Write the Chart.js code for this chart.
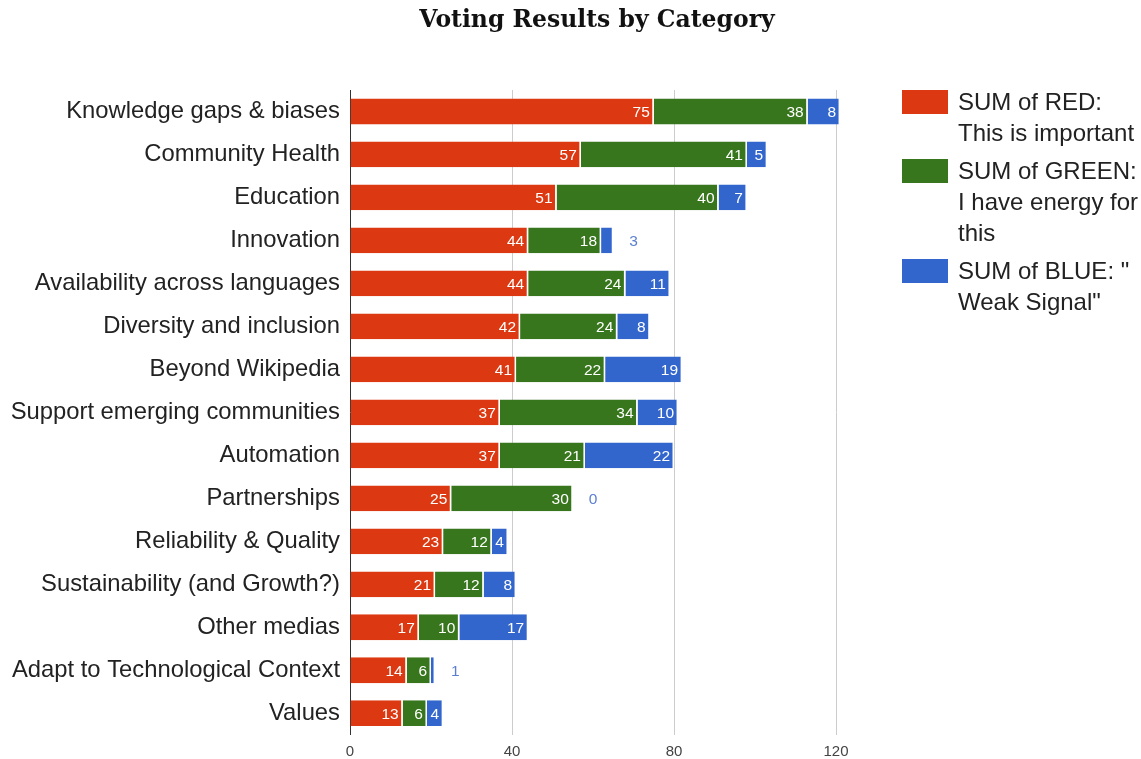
<!DOCTYPE html>
<html>
<head>
<meta charset="utf-8">
<script src="https://cdn.jsdelivr.net/npm/chart.js@4.4.1/dist/chart.umd.min.js"></script>
<style>
  html, body { margin: 0; padding: 0; background: #fff; }
  #wrap { position: relative; width: 1141px; height: 759px; }
  #title {
    position: absolute; left: 0; top: 5px; width: 1194px; text-align: center;
    font: bold 23.5px "DejaVu Serif", serif; color: #111;
  }
  #legend { position: absolute; left: 902px; top: 86px; font: 24px "Liberation Sans", Arial, sans-serif; color: #222; }
  .item { position: relative; padding-left: 56px; line-height: 31px; margin-bottom: 7px; }
  .box { position: absolute; left: 0; top: 4px; width: 46px; height: 24px; }
</style>
</head>
<body>
<div id="wrap">
  <canvas id="c" width="1141" height="759"></canvas>
  <div id="title">Voting Results by Category</div>
  <div id="legend"></div>
</div>
<script>
const categories = [
  'Knowledge gaps & biases', 'Community Health', 'Education', 'Innovation',
  'Availability across languages', 'Diversity and inclusion', 'Beyond Wikipedia',
  'Support emerging communities', 'Automation', 'Partnerships', 'Reliability & Quality',
  'Sustainability (and Growth?)', 'Other medias', 'Adapt to Technological Context', 'Values'
];
const redValues   = [75, 57, 51, 44, 44, 42, 41, 37, 37, 25, 23, 21, 17, 14, 13];
const greenValues = [38, 41, 40, 18, 24, 24, 22, 34, 21, 30, 12, 12, 10, 6, 6];
const blueValues  = [8, 5, 7, 3, 11, 8, 19, 10, 22, 0, 4, 8, 17, 1, 4];
const seriesNames = [
  ['SUM of RED:', 'This is important'],
  ['SUM of GREEN:', 'I have energy for', 'this'],
  ['SUM of BLUE: "', 'Weak Signal"']
];
const colors = ['#dc3912', '#38761d', '#3366cc'];
const xTicks = [0, 40, 80, 120];

// labels on the bar segments, or just after the bar when the piece is too thin
const barLabels = {
  id: 'barLabels',
  afterDatasetsDraw(chart) {
    const ctx = chart.ctx;
    const n = chart.data.datasets.length;
    ctx.save();
    ctx.font = '15.5px "Liberation Sans", Arial, sans-serif';
    ctx.textBaseline = 'middle';
    chart.data.datasets.forEach((ds, i) => {
      const meta = chart.getDatasetMeta(i);
      meta.data.forEach((bar, j) => {
        const p = bar.getProps(['x', 'base', 'y'], true);
        const text = String(ds.data[j]);
        const tw = ctx.measureText(text).width;
        const w = p.x - p.base;
        if (w >= tw + 6) {
          ctx.fillStyle = '#fff';
          ctx.textAlign = 'right';
          ctx.fillText(text, p.x - 4, p.y + 1);
        } else {
          const end = chart.getDatasetMeta(n - 1).data[j].x;
          ctx.fillStyle = '#5b7fd0';
          ctx.textAlign = 'left';
          ctx.fillText(text, end + 16, p.y + 1);
        }
      });
    });
    ctx.restore();
  }
};

const series = [redValues, greenValues, blueValues];

new Chart(document.getElementById('c'), {
  type: 'bar',
  data: {
    labels: categories,
    datasets: series.map((vals, i) => ({
      label: seriesNames[i].join(' '),
      data: vals,
      backgroundColor: colors[i],
      borderColor: '#fff',
      borderWidth: { right: 1.5 },
      borderSkipped: false,
      categoryPercentage: 0.6,
      barPercentage: 1,
      clip: false
    }))
  },
  options: {
    indexAxis: 'y',
    responsive: false,
    animation: false,
    layout: { padding: { top: 90, right: 305, left: 0, bottom: 0 } },
    plugins: { legend: { display: false }, tooltip: { enabled: false } },
    scales: {
      x: {
        stacked: true,
        min: 0, max: 120,
        afterBuildTicks: (s) => { s.ticks = xTicks.map(v => ({ value: v })); },
        afterFit: (s) => { s.height = 23; },
        grid: { color: (c) => c.tick && c.tick.value === 0 ? 'rgba(0,0,0,0)' : '#cccccc', drawTicks: false },
        border: { display: false },
        ticks: { padding: 8, color: '#444', font: { size: 15, family: '"Liberation Sans", Arial, sans-serif' } }
      },
      y: {
        stacked: true,
        afterFit: (s) => { s.width = 350; },
        grid: { display: false, drawTicks: false },
        border: { display: true, color: '#333', width: 1 },
        ticks: { padding: 10, color: '#222', font: { size: 23.8, family: '"Liberation Sans", Arial, sans-serif' } }
      }
    }
  },
  plugins: [barLabels]
});

const legend = document.getElementById('legend');
seriesNames.forEach((lines, i) => {
  const item = document.createElement('div');
  item.className = 'item';
  item.innerHTML = '<span class="box" style="background:' + colors[i] + '"></span>' + lines.join('<br>');
  legend.appendChild(item);
});
</script>
</body>
</html>
